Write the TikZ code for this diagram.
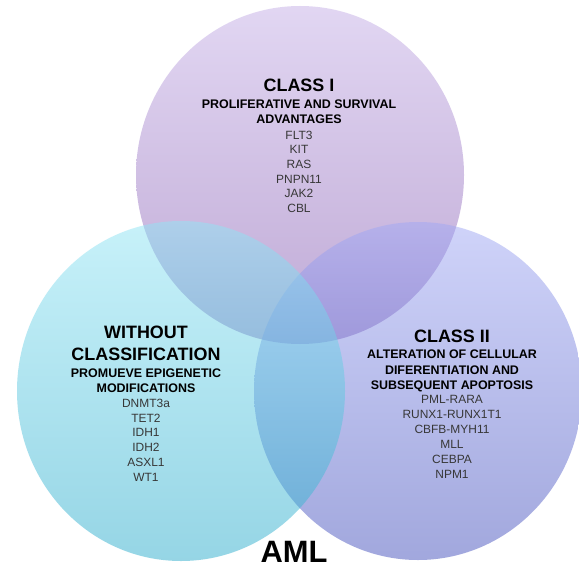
\documentclass[tikz,border=0pt]{standalone}
\usepackage{fontspec}
\setmainfont{Liberation Sans}
\definecolor{topA}{RGB}{197,175,231}
\definecolor{topB}{RGB}{129,85,173}
\definecolor{rightA}{RGB}{161,169,245}
\definecolor{rightB}{RGB}{69,81,189}
\definecolor{leftA}{RGB}{145,229,245}
\definecolor{leftB}{RGB}{45,173,205}
\definecolor{genegray}{RGB}{55,55,55}
\begin{document}
\begin{tikzpicture}[x=1bp,y=-1bp,
  ttl/.style={font=\fontsize{18}{22}\selectfont\bfseries, anchor=base, inner sep=0pt, text=black},
  subttl/.style={font=\fontsize{12.5}{15}\selectfont\bfseries, anchor=base, inner sep=0pt, text=black},
  gene/.style={font=\fontsize{12}{14}\selectfont, anchor=base, inner sep=0pt, text=genegray},
  blob/.style={fill opacity=0.5, draw=none},
]
\useasboundingbox (0,0) rectangle (579,569);
\fill[white] (0,0) rectangle (579,569);
\begin{scope}
\clip (0,0) rectangle (579,569);
\shade[blob, top color=topA, bottom color=topB] (300,175) ellipse [x radius=164, y radius=169];
\shade[blob, top color=rightA, bottom color=rightB] (418,391) ellipse [x radius=164, y radius=169];
\shade[blob, top color=leftA, bottom color=leftB] (181,391) ellipse [x radius=164, y radius=170];
\end{scope}

% Class I
\node[ttl] (t1) at (299,91.5) {CLASS I};
\node[subttl] (t1s1) at (299,108.5) {PROLIFERATIVE AND SURVIVAL};
\node[subttl] (t1s2) at (299,123.5) {ADVANTAGES};
\foreach \g [count=\i] in {FLT3,KIT,RAS,PNPN11,JAK2,CBL}
  \node[gene] (t1g\i) at (299,{139.3+14.6*(\i-1)}) {\g};

% Without classification
\node[ttl] (t3a) at (146,338.4) {WITHOUT};
\node[ttl] (t3b) at (146,360.4) {CLASSIFICATION};
\node[subttl] (t3s1) at (146,377.5) {PROMUEVE EPIGENETIC};
\node[subttl] (t3s2) at (146,392.5) {MODIFICATIONS};
\foreach \g [count=\i] in {DNMT3a,TET2,IDH1,IDH2,ASXL1,WT1}
  \node[gene] (t3g\i) at (146,{407.3+14.8*(\i-1)}) {\g};

% Class II
\node[ttl] (t2) at (452,342.4) {CLASS II};
\node[subttl] (t2s1) at (452,358.5) {ALTERATION OF CELLULAR};
\node[subttl] (t2s2) at (452,374) {DIFERENTIATION AND};
\node[subttl] (t2s3) at (452,389.5) {SUBSEQUENT APOPTOSIS};
\foreach \g [count=\i] in {PML-RARA,RUNX1-RUNX1T1,CBFB-MYH11,MLL,CEBPA,NPM1}
  \node[gene] (t2g\i) at (452,{403.3+15*(\i-1)}) {\g};

\node[font=\fontsize{31}{36}\selectfont\bfseries, anchor=base, inner sep=0pt] (aml) at (294,562) {AML};
\end{tikzpicture}
\end{document}
